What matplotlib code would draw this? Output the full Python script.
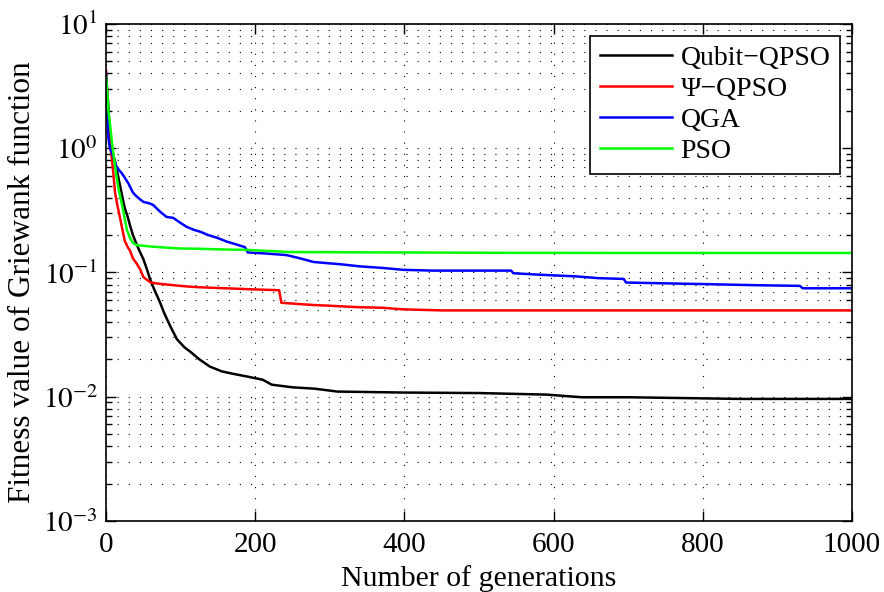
import matplotlib
matplotlib.use("Agg")
from matplotlib import pyplot as plt
from matplotlib.ticker import LogLocator, FixedLocator, NullLocator

plt.rcParams['font.family'] = ['Liberation Serif', 'DejaVu Serif']
plt.rcParams['mathtext.fontset'] = 'stix'

# generations / fitness values
black_x = [0, 3, 5, 8, 12, 16, 19, 22, 25, 29, 32, 36, 41, 45, 50, 55, 59, 65, 72, 78, 86, 95,
           105, 113, 125, 139, 155, 170, 190, 210, 222, 250, 280, 310, 400, 500, 590, 638, 700, 850, 1000]
black_y = [3.9, 2.2, 1.25, 0.95, 0.78, 0.6, 0.49, 0.4, 0.33, 0.28, 0.24, 0.2, 0.168, 0.148, 0.128, 0.105,
           0.088, 0.072, 0.058, 0.047, 0.037, 0.029, 0.025, 0.023, 0.02, 0.0175, 0.016, 0.0153, 0.0145, 0.0137,
           0.0125, 0.0119, 0.0116, 0.011, 0.0108, 0.0107, 0.0104, 0.0099, 0.0099, 0.0096, 0.0096]

red_x = [0, 3, 6, 8, 10, 12, 15, 19, 22, 25, 29, 32, 36, 41, 46, 50, 55, 60, 72, 90, 110, 126, 150,
         175, 200, 232, 235, 278, 300, 336, 370, 398, 450, 1000]
red_y = [4.2, 1.5, 1.0, 0.8, 0.6, 0.44, 0.35, 0.27, 0.22, 0.18, 0.16, 0.15, 0.13, 0.118, 0.105, 0.092,
         0.087, 0.083, 0.081, 0.079, 0.077, 0.076, 0.075, 0.074, 0.073, 0.072, 0.057, 0.0547, 0.054, 0.0526,
         0.052, 0.0505, 0.0495, 0.0495]

blue_x = [0, 2, 3, 5, 8, 11, 14, 18, 21, 25, 30, 36, 39, 45, 50, 58, 63, 72, 81, 90, 100, 108, 118, 126,
          137, 149, 162, 172, 186, 190, 215, 242, 260, 278, 295, 314, 340, 372, 398, 438, 543, 546, 580,
          630, 660, 694, 697, 760, 811, 870, 930, 934, 1000]
blue_y = [3.96, 2.0, 1.23, 1.0, 0.91, 0.8, 0.71, 0.66, 0.63, 0.58, 0.52, 0.44, 0.42, 0.39, 0.37, 0.36,
          0.35, 0.31, 0.28, 0.275, 0.25, 0.233, 0.22, 0.213, 0.2, 0.19, 0.177, 0.17, 0.16, 0.145, 0.142,
          0.138, 0.13, 0.1215, 0.119, 0.1165, 0.112, 0.1086, 0.105, 0.1035, 0.1035, 0.0986, 0.096, 0.093,
          0.09, 0.0887, 0.083, 0.0815, 0.0804, 0.079, 0.078, 0.0746, 0.0746]

green_x = [0, 2, 3, 5, 8, 11, 14, 17, 21, 25, 28, 32, 36, 41, 50, 59, 77, 99, 126, 160, 189, 246, 368,
           528, 700, 1000]
green_y = [3.77, 2.6, 2.03, 1.6, 1.1, 0.8, 0.59, 0.46, 0.36, 0.27, 0.22, 0.19, 0.173, 0.166, 0.164, 0.162,
           0.159, 0.156, 0.155, 0.153, 0.152, 0.146, 0.145, 0.144, 0.1436, 0.1436]

labels = ['Qubit\u2212QPSO', '\u03a8\u2212QPSO', 'QGA', 'PSO']
x_ticks = [0, 200, 400, 600, 800, 1000]
y_ticks = [1e-3, 1e-2, 1e-1, 1e0, 1e1]
y_tick_labels = ['$10^{-3}$', '$10^{-2}$', '$10^{-1}$', '$10^{0}$', '$10^{1}$']

fs = 21
fig = plt.figure(figsize=(8.84, 5.92), dpi=100)
ax = fig.add_axes([0.12, 0.12, 0.8438, 0.8395])

lw = 1.8
ax.plot(black_x, black_y, color='k', lw=lw, label=labels[0])
ax.plot(red_x, red_y, color='#ff0000', lw=lw, label=labels[1])
ax.plot(blue_x, blue_y, color='#0000ff', lw=lw, label=labels[2])
ax.plot(green_x, green_y, color='#00ff00', lw=lw, label=labels[3])

ax.set_yscale('log')
ax.set_xlim(0, 1000)
ax.set_ylim(1e-3, 1e1)
ax.xaxis.set_major_locator(FixedLocator(x_ticks))
ax.xaxis.set_minor_locator(NullLocator())
ax.set_yticks(y_ticks)
ax.set_yticklabels(y_tick_labels)
ax.yaxis.set_minor_locator(LogLocator(base=10, subs=range(2, 10)))

dots = (0, (1, 9))
ax.grid(True, which='major', axis='both', color='k', ls=dots, lw=0.8)
ax.grid(True, which='minor', axis='y', color='k', ls=dots, lw=0.8)

ax.tick_params(which='both', direction='in', top=True, right=True, labelsize=fs, width=1)
ax.tick_params(which='major', length=7)
ax.tick_params(which='minor', length=4)
ax.tick_params(axis='x', pad=8)
ax.tick_params(axis='y', pad=6)
for s in ax.spines.values():
    s.set_linewidth(1.2)

ax.set_xlabel('Number of generations', fontsize=21.5, labelpad=5)
ax.set_ylabel('Fitness value of Griewank function', fontsize=22.5)
ax.yaxis.set_label_coords(-0.093, 0.48)

leg = ax.legend(loc='upper right', fontsize=20, frameon=True, fancybox=False, edgecolor='k',
                framealpha=1, borderaxespad=0.43, handlelength=2.6, handletextpad=0.3,
                labelspacing=0.2, borderpad=0.35)
leg.get_frame().set_linewidth(1.2)

fig.savefig('out.png', dpi=100)
